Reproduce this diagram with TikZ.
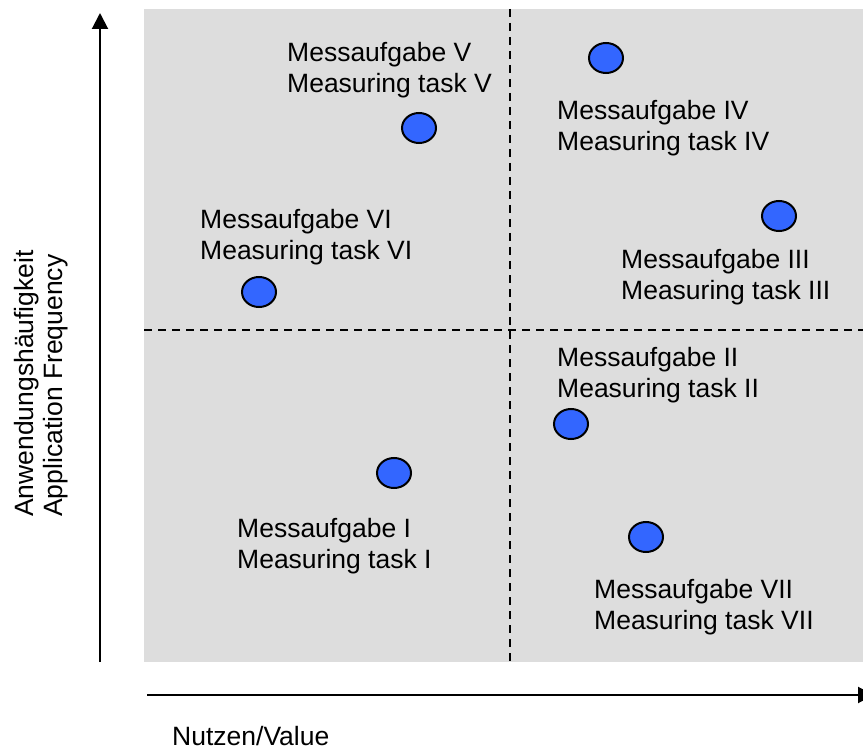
\documentclass[tikz,border=0pt]{standalone}
\usepackage{fontspec}
\setmainfont{Liberation Sans}
\usepackage{tikz}
\usetikzlibrary{shapes,arrows.meta,positioning}
\definecolor{quadgray}{RGB}{221,221,221}
\definecolor{spotblue}{RGB}{51,102,255}
\newcommand{\tasksize}{\fontsize{26.5}{31}\selectfont}
\tikzstyle{quadrant} = [fill=quadgray]
\tikzstyle{divider} = [draw, line width=2, dash pattern=on 8 off 6]
\tikzstyle{axis} = [draw, line width=2, -{Triangle[length=16,width=16]}]
\tikzstyle{spot} = [draw, ellipse, fill=spotblue, line width=2, minimum width=34, minimum height=30, inner sep=0]
\tikzstyle{tasklabel} = [anchor=base west, align=left, inner sep=0, font=\tasksize]
\newcommand{\spot}[1]{node (s#1) [spot] {}}
\newcommand{\tasklabel}[2]{node (l#1) [tasklabel] {#2}}

\begin{document}
\begin{tikzpicture}[x=1pt,y=-1pt]
\useasboundingbox (0,0) rectangle (863,749);
% quadrant field
\path [quadrant] (144,9) rectangle (863,662);
\coordinate (vtop) at (510,9);
\coordinate (vbot) at (510,662);
\coordinate (hleft) at (144,330);
\coordinate (hright) at (863,330);
\path [divider] (vtop) -- (vbot);
\path [divider] (hleft) -- (hright);

% axes
\coordinate (yfoot) at (100,662);
\coordinate (ytip) at (100,13);
\coordinate (xfoot) at (147,695);
\coordinate (xtip) at (874,695);
\path [axis] (yfoot) -- (ytip);
\path [axis] (xfoot) -- (xtip);
\node (ylabel) [tasklabel, rotate=90, font=\fontsize{26.5}{28.5}\selectfont] at (62,517) {Anwendungsh\"aufigkeit\\Application Frequency};
\node (xlabel) [tasklabel] at (172,745) {Nutzen/Value};

% tasks (label base = second line)
\path (419,128) \spot{5};
\path (s5)+(-132,-35) \tasklabel{5}{Messaufgabe V\\Measuring task V};
\path (606,58) \spot{4};
\path (s4)+(-49,93) \tasklabel{4}{Messaufgabe IV\\Measuring task IV};
\path (779,216) \spot{3};
\path (s3)+(-158,83) \tasklabel{3}{Messaufgabe III\\Measuring task III};
\path (259,292) \spot{6};
\path (s6)+(-59,-33) \tasklabel{6}{Messaufgabe VI\\Measuring task VI};
\path (571,424) \spot{2};
\path (s2)+(-14,-27) \tasklabel{2}{Messaufgabe II\\Measuring task II};
\path (394,473) \spot{1};
\path (s1)+(-157,95) \tasklabel{1}{Messaufgabe I\\Measuring task I};
\path (646,537) \spot{7};
\path (s7)+(-52,92) \tasklabel{7}{Messaufgabe VII\\Measuring task VII};
\end{tikzpicture}
\end{document}
